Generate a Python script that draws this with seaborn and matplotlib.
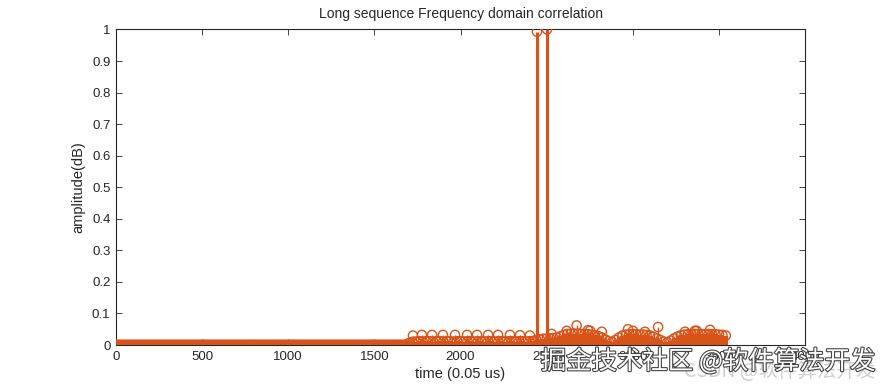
import numpy as np
import pandas as pd
import matplotlib
matplotlib.use("Agg")
import matplotlib.pyplot as plt
import matplotlib.patheffects as pe
import seaborn as sns

# ---------------- data ----------------
# quiet part of the correlation: all zero
quiet_idx = list(range(0, 1700, 5))
quiet_val = [0.0] * len(quiet_idx)

# dense low-level correlation floor, sampled every 20 samples (1700..3540)
floor_idx = list(range(1700, 3541, 20))
floor_val = [
    0.006, 0.010, 0.011, 0.012, 0.011, 0.012, 0.012, 0.011, 0.012, 0.012,   # 1700-1880
    0.011, 0.012, 0.012, 0.011, 0.012, 0.012, 0.011, 0.012, 0.012, 0.011,   # 1900-2080
    0.012, 0.012, 0.011, 0.012, 0.012, 0.011, 0.012, 0.012, 0.011, 0.012,   # 2100-2280
    0.012, 0.011, 0.012, 0.012, 0.011, 0.012, 0.013, 0.016, 0.018, 0.020,   # 2300-2480
    0.020, 0.021, 0.022, 0.024, 0.028, 0.032, 0.035, 0.036, 0.036, 0.036,   # 2500-2680
    0.035, 0.035, 0.034, 0.033, 0.031, 0.028, 0.024, 0.018, 0.012, 0.010,   # 2700-2880
    0.016, 0.024, 0.030, 0.033, 0.034, 0.034, 0.034, 0.033, 0.033, 0.032,   # 2900-3080
    0.030, 0.026, 0.021, 0.016, 0.011, 0.008, 0.014, 0.021, 0.027, 0.031,   # 3100-3280
    0.033, 0.034, 0.034, 0.035, 0.035, 0.034, 0.034, 0.035, 0.034, 0.034,   # 3300-3480
    0.033, 0.032, 0.030,                                                    # 3500-3540
]

# individual visible side-lobe peaks
peak_idx = [1724, 1776, 1835, 1898, 1968, 2038, 2096, 2160, 2218, 2287, 2345, 2403,
            2529, 2616, 2674, 2740, 2752, 2820, 2972, 3001, 3071, 3147, 3303, 3361, 3371, 3449]
peak_val = [0.030, 0.032, 0.032, 0.032, 0.032, 0.032, 0.032, 0.032, 0.032, 0.032, 0.031, 0.030,
            0.035, 0.045, 0.062, 0.047, 0.045, 0.042, 0.050, 0.045, 0.042, 0.057, 0.042, 0.045, 0.045, 0.048]

# the two main correlation peaks
main_idx = [2444, 2502]
main_val = [0.993, 1.000]

title = "Long sequence Frequency domain correlation"
xlabel = "time (0.05 us)"
ylabel = "amplitude(dB)"
xticks = [0, 500, 1000, 1500, 2000, 2500, 3000, 3500, 4000]
yticks = [0, 0.1, 0.2, 0.3, 0.4, 0.5, 0.6, 0.7, 0.8, 0.9, 1.0]
ytick_labels = ["0", "0.1", "0.2", "0.3", "0.4", "0.5", "0.6", "0.7", "0.8", "0.9", "1"]

# ---------------- build frames ----------------
df = pd.DataFrame({
    "t": quiet_idx + floor_idx + peak_idx + main_idx,
    "amp": quiet_val + floor_val + peak_val + main_val,
})
floor_df = pd.DataFrame({"t": floor_idx, "amp": floor_val})

# ---------------- plot ----------------
sns.set_style("ticks")
plt.rcParams["font.family"] = ["Liberation Sans", "DejaVu Sans"]

color = "#D95319"
fig = plt.figure(figsize=(8.91, 3.88), dpi=100)
ax = fig.add_axes([0.1302, 0.1108, 0.9035 - 0.1302, 0.924 - 0.1108])

# stems
ax.vlines(floor_df["t"], 0, floor_df["amp"], color=color, lw=3.0, zorder=2)
ax.vlines(peak_idx, 0, peak_val, color=color, lw=1.0, zorder=2)
ax.vlines(main_idx, 0, main_val, color=color, lw=2.2, zorder=3)
# markers
sns.scatterplot(data=df, x="t", y="amp", ax=ax, marker="o", s=44,
                facecolor="none", edgecolor=color, linewidth=1.0, zorder=4,
                legend=False)

ax.set_xlim(0, 4000)
ax.set_ylim(0, 1)
ax.set_xticks(xticks)
ax.set_xticklabels([str(v) for v in xticks])
ax.set_yticks(yticks)
ax.set_yticklabels(ytick_labels)
ax.tick_params(direction="in", length=4, width=0.6, labelsize=9.5,
               top=True, right=True, colors="#262626", labelcolor="#262626", pad=4)
for s in ax.spines.values():
    s.set_visible(True)
    s.set_linewidth(0.8)
    s.set_color("#262626")

ax.set_title(title, fontsize=10, color="#262626", pad=8)
ax.set_xlabel(xlabel, fontsize=10.5, color="#262626", labelpad=3)
ax.set_ylabel(ylabel, fontsize=10.5, color="#262626", labelpad=5)

# watermarks
cjk = ["Noto Sans CJK SC", "DejaVu Sans"]
fig.text(0.982, 0.015, "CSDN @软件算法开发", ha="right", va="bottom",
         fontsize=14, color="#cfcfcf", family=cjk)
t = fig.text(0.982, 0.068, "掘金技术社区 @软件算法开发", ha="right", va="center",
             fontsize=18.3, color="white", family=cjk)
t.set_path_effects([pe.withStroke(linewidth=1.6, foreground="#444444")])

fig.savefig("out.png", dpi=100)
